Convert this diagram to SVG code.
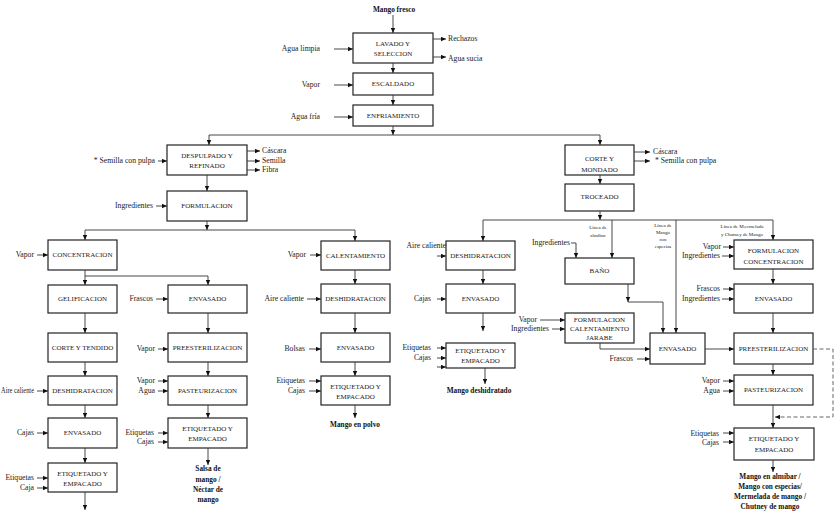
<svg xmlns="http://www.w3.org/2000/svg" width="839" height="511" viewBox="0 0 839 511">
<style>
.b rect{fill:#fff;stroke:#222;stroke-width:1.2}
.b text{font-family:"Liberation Serif",serif;font-size:7px;fill:#222;text-anchor:middle}
.c{fill:none;stroke:#333;stroke-width:0.9}
.a{marker-end:url(#ah)}
.d{fill:none;stroke:#666;stroke-width:1;stroke-dasharray:4,2.5}
.l{font-family:"Liberation Serif",serif;font-size:7.7px;fill:#222}
.r{text-anchor:end}
.s{font-family:"Liberation Serif",serif;font-size:5px;fill:#222;text-anchor:middle}
.p{font-family:"Liberation Serif",serif;font-size:7.3px;font-weight:bold;fill:#111;text-anchor:middle}
</style>
<defs>
<marker id="ah" markerUnits="userSpaceOnUse" markerWidth="5" markerHeight="5" refX="5" refY="2.5" orient="auto"><path d="M0,0.3 L5,2.5 L0,4.7 z" fill="#111"/></marker>
</defs>

<g id="nodes">
<g id="lavado" class="b"><rect x="353" y="33" width="80" height="30"/><text x="393" y="46">LAVADO Y</text><text x="393" y="56">SELECCION</text></g>
<g id="escaldado" class="b"><rect x="353" y="73" width="80" height="22"/><text x="393" y="86">ESCALDADO</text></g>
<g id="enfriamiento" class="b"><rect x="353" y="105" width="80" height="21"/><text x="393" y="118">ENFRIAMIENTO</text></g>
<g id="despulpado" class="b"><rect x="167" y="145" width="80" height="30"/><text x="207" y="158">DESPULPADO Y</text><text x="207" y="168">REFINADO</text></g>
<g id="formulacion" class="b"><rect x="167" y="191" width="80" height="30"/><text x="207" y="208">FORMULACION</text></g>
<g id="concentracion" class="b"><rect x="48" y="240" width="69" height="30"/><text x="82.5" y="257">CONCENTRACION</text></g>
<g id="gelificacion" class="b"><rect x="48" y="285" width="69" height="28"/><text x="82.5" y="301">GELIFICACION</text></g>
<g id="envasado1" class="b"><rect x="168" y="285" width="79" height="28"/><text x="207.5" y="301">ENVASADO</text></g>
<g id="corte-tendido" class="b"><rect x="48" y="333" width="69" height="29"/><text x="82.5" y="350">CORTE Y TENDIDO</text></g>
<g id="preesterilizacion1" class="b"><rect x="168" y="333" width="79" height="29"/><text x="207.5" y="350">PREESTERILIZACION</text></g>
<g id="deshidratacion1" class="b"><rect x="48" y="376" width="69" height="29"/><text x="82.5" y="393">DESHIDRATACION</text></g>
<g id="pasteurizacion1" class="b"><rect x="168" y="376" width="79" height="29"/><text x="207.5" y="393">PASTEURIZACION</text></g>
<g id="envasado2" class="b"><rect x="48" y="418" width="69" height="30"/><text x="82.5" y="435">ENVASADO</text></g>
<g id="etiquetado2" class="b"><rect x="168" y="418" width="79" height="30"/><text x="207.5" y="431">ETIQUETADO Y</text><text x="207.5" y="441">EMPACADO</text></g>
<g id="etiquetado1" class="b"><rect x="48" y="463" width="69" height="29"/><text x="82.5" y="476">ETIQUETADO Y</text><text x="82.5" y="486">EMPACADO</text></g>
<g id="calentamiento" class="b"><rect x="321" y="241" width="69" height="29"/><text x="355.5" y="258">CALENTAMIENTO</text></g>
<g id="deshidratacion2" class="b"><rect x="321" y="284" width="69" height="29"/><text x="355.5" y="301">DESHIDRATACION</text></g>
<g id="envasado3" class="b"><rect x="321" y="333" width="69" height="29"/><text x="355.5" y="350">ENVASADO</text></g>
<g id="etiquetado3" class="b"><rect x="321" y="376" width="69" height="29"/><text x="355.5" y="389">ETIQUETADO Y</text><text x="355.5" y="399">EMPACADO</text></g>
<g id="corte-mondado" class="b"><rect x="565" y="145" width="69" height="30"/><text x="599.5" y="161">CORTE Y</text><text x="599.5" y="172">MONDADO</text></g>
<g id="troceado" class="b"><rect x="565" y="184" width="69" height="27"/><text x="599.5" y="199">TROCEADO</text></g>
<g id="deshidratacion3" class="b"><rect x="446" y="241" width="69" height="29"/><text x="480.5" y="258">DESHIDRATACION</text></g>
<g id="envasado4" class="b"><rect x="446" y="284" width="69" height="29"/><text x="480.5" y="301">ENVASADO</text></g>
<g id="etiquetado4" class="b"><rect x="446" y="343" width="69" height="25"/><text x="480.5" y="353">ETIQUETADO Y</text><text x="480.5" y="363">EMPACADO</text></g>
<g id="bano" class="b"><rect x="565" y="258" width="69" height="26"/><text x="599.5" y="273">BAÑO</text></g>
<g id="formulacion-jarabe" class="b"><rect x="565" y="313" width="69" height="30"/><text x="599.5" y="322">FORMULACION</text><text x="599.5" y="331">CALENTAMIENTO</text><text x="599.5" y="340">JARABE</text></g>
<g id="envasado5" class="b"><rect x="650" y="333" width="55" height="31"/><text x="677.5" y="351">ENVASADO</text></g>
<g id="formulacion-concentracion" class="b"><rect x="734" y="240" width="79" height="29"/><text x="773.5" y="253">FORMULACION</text><text x="773.5" y="264">CONCENTRACION</text></g>
<g id="envasado6" class="b"><rect x="734" y="284" width="79" height="29"/><text x="773.5" y="301">ENVASADO</text></g>
<g id="preesterilizacion2" class="b"><rect x="734" y="333" width="79" height="31"/><text x="773.5" y="351">PREESTERILIZACION</text></g>
<g id="pasteurizacion2" class="b"><rect x="734" y="375" width="79" height="30"/><text x="773.5" y="392">PASTEURIZACION</text></g>
<g id="etiquetado5" class="b"><rect x="734" y="428" width="80" height="32"/><text x="774" y="441">ETIQUETADO Y</text><text x="774" y="452">EMPACADO</text></g>
</g>

<g id="connectors">
<path class="c a" d="M393,15 V33"/>
<path class="c a" d="M393,63 V73"/>
<path class="c a" d="M393,95 V105"/>
<path class="c a" d="M393,126 V135"/>
<path class="c" d="M209,135 H600"/>
<path class="c a" d="M209,135 V145"/>
<path class="c a" d="M600,135 V145"/>
<path class="c a" d="M207,175 V191"/>
<path class="c a" d="M207,221 V230"/>
<path class="c" d="M85,230 H355"/>
<path class="c a" d="M85,230 V240"/>
<path class="c a" d="M355,230 V241"/>
<path class="c" d="M85,270 V276 H208"/>
<path class="c a" d="M85,276 V285"/>
<path class="c a" d="M208,276 V285"/>
<path class="c a" d="M85,313 V333"/>
<path class="c a" d="M85,362 V376"/>
<path class="c a" d="M85,405 V418"/>
<path class="c a" d="M85,448 V463"/>
<path class="c a" d="M85,492 V510"/>
<path class="c a" d="M208,313 V333"/>
<path class="c a" d="M208,362 V376"/>
<path class="c a" d="M208,405 V418"/>
<path class="c a" d="M208,448 V465"/>
<path class="c a" d="M355,270 V284"/>
<path class="c a" d="M355,313 V333"/>
<path class="c a" d="M355,362 V376"/>
<path class="c a" d="M355,405 V418"/>
<path class="c a" d="M600,175 V184"/>
<path class="c a" d="M600,211 V220"/>
<path class="c" d="M483,220 H773"/>
<path class="c a" d="M483,220 V241"/>
<path class="c a" d="M612,220 V258"/>
<path class="c a" d="M676,220 V333"/>
<path class="c a" d="M773,220 V240"/>
<path class="c a" d="M571,243 H576 V258"/>
<path class="c a" d="M483,270 V284"/>
<path class="c a" d="M483,313 V331"/>
<path class="c a" d="M485,368 V384"/>
<path class="c a" d="M628,284 V302"/>
<path class="c a" d="M628,302 H663 V333"/>
<path class="c a" d="M600,343 V349 H650"/>
<path class="c a" d="M705,349 H734"/>
<path class="c a" d="M773,269 V284"/>
<path class="c a" d="M773,313 V333"/>
<path class="c a" d="M773,364 V375"/>
<path class="c a" d="M773,405 V428"/>
<path class="c a" d="M773,460 V472"/>
<path class="d a" d="M813,349 H833 V417 H775"/>

<path class="c a" d="M433,39 H446"/>
<path class="c a" d="M433,57 H446"/>
<path class="c a" d="M334,49 H353"/>
<path class="c a" d="M334,85 H353"/>
<path class="c a" d="M334,117 H353"/>
<path class="c a" d="M247,151 H260"/>
<path class="c a" d="M247,161 H260"/>
<path class="c a" d="M247,170 H260"/>
<path class="c a" d="M158,161 H167"/>
<path class="c a" d="M156,206 H167"/>
<path class="c a" d="M37,255 H48"/>
<path class="c a" d="M156,299 H168"/>
<path class="c a" d="M158,349 H168"/>
<path class="c a" d="M37,391 H48"/>
<path class="c a" d="M158,381 H168"/>
<path class="c a" d="M158,391 H168"/>
<path class="c a" d="M37,433 H48"/>
<path class="c a" d="M158,433 H168"/>
<path class="c a" d="M158,442 H168"/>
<path class="c a" d="M37,478 H48"/>
<path class="c a" d="M37,488 H48"/>
<path class="c a" d="M310,255 H321"/>
<path class="c a" d="M307,299 H321"/>
<path class="c a" d="M309,349 H321"/>
<path class="c a" d="M309,381 H321"/>
<path class="c a" d="M309,391 H321"/>
<path class="c a" d="M437,256 H446"/>
<path class="c a" d="M437,299 H446"/>
<path class="c a" d="M437,348 H446"/>
<path class="c a" d="M437,358 H446"/>
<path class="c a" d="M437,367 H446"/>
<path class="c a" d="M540,320 H565"/>
<path class="c a" d="M552,329 H565"/>
<path class="c a" d="M637,359 H650"/>
<path class="c a" d="M634,152 H650"/>
<path class="c a" d="M634,161 H650"/>
<path class="c a" d="M723,247 H734"/>
<path class="c a" d="M722,256 H734"/>
<path class="c a" d="M723,289 H734"/>
<path class="c a" d="M722,299 H734"/>
<path class="c a" d="M723,381 H734"/>
<path class="c a" d="M723,391 H734"/>
<path class="c a" d="M723,433 H734"/>
<path class="c a" d="M723,442 H734"/>
</g>

<g id="labels">
<text class="l r" x="320" y="51">Agua limpia</text>
<text class="l r" x="320" y="87">Vapor</text>
<text class="l r" x="320" y="119">Agua fría</text>
<text class="l" x="448" y="41">Rechazos</text>
<text class="l" x="448" y="61">Agua sucia</text>
<text class="l" x="262" y="153">Cáscara</text>
<text class="l" x="262" y="163">Semilla</text>
<text class="l" x="262" y="172">Fibra</text>
<text class="l r" x="155" y="163">* Semilla con pulpa</text>
<text class="l r" x="153" y="208">Ingredientes</text>
<text class="l r" x="34" y="257">Vapor</text>
<text class="l r" x="153" y="301">Frascos</text>
<text class="l r" x="155" y="351">Vapor</text>
<text class="l" x="1" y="393" textLength="33" lengthAdjust="spacingAndGlyphs">Aire caliente</text>
<text class="l r" x="155" y="383">Vapor</text>
<text class="l r" x="155" y="393">Agua</text>
<text class="l r" x="34" y="435">Cajas</text>
<text class="l r" x="154" y="435">Etiquetas</text>
<text class="l r" x="154" y="444">Cajas</text>
<text class="l r" x="34" y="480">Etiquetas</text>
<text class="l r" x="34" y="490">Caja</text>
<text class="l r" x="306" y="257">Vapor</text>
<text class="l r" x="304" y="301">Aire caliente</text>
<text class="l r" x="305" y="351">Bolsas</text>
<text class="l r" x="305" y="383">Etiquetas</text>
<text class="l r" x="305" y="393">Cajas</text>
<text class="l r" x="446" y="248">Aire caliente</text>
<text class="l r" x="431" y="301">Cajas</text>
<text class="l r" x="431" y="350">Etiquetas</text>
<text class="l r" x="431" y="360">Cajas</text>
<text class="l r" x="570" y="245">Ingredientes</text>
<text class="l r" x="537" y="322">Vapor</text>
<text class="l r" x="549" y="331">Ingredientes</text>
<text class="l r" x="633" y="361">Frascos</text>
<text class="l" x="653" y="154">Cáscara</text>
<text class="l" x="655" y="163">* Semilla con pulpa</text>
<text class="l r" x="721" y="249">Vapor</text>
<text class="l r" x="720" y="258">Ingredientes</text>
<text class="l r" x="720" y="291">Frascos</text>
<text class="l r" x="720" y="301">Ingredientes</text>
<text class="l r" x="720" y="383">Vapor</text>
<text class="l r" x="720" y="393">Agua</text>
<text class="l r" x="719" y="436">Etiquetas</text>
<text class="l r" x="719" y="445">Cajas</text>
<text class="s" x="598" y="229">Línea de</text>
<text class="s" x="598" y="237">almíbar</text>
<text class="s" x="663" y="227">Línea de</text>
<text class="s" x="663" y="234">Mango</text>
<text class="s" x="663" y="241">con</text>
<text class="s" x="663" y="248">especias</text>
<text class="s" x="742" y="228">Línea de M;ermelada</text>
<text class="s" x="742" y="236">y Chutney de Mango</text>
<text class="p" x="394" y="12">Mango fresco</text>
<text class="p" x="208" y="471">Salsa de</text>
<text class="p" x="208" y="482">mango /</text>
<text class="p" x="208" y="492">Néctar de</text>
<text class="p" x="208" y="502">mango</text>
<text class="p" x="355" y="427">Mango en polvo</text>
<text class="p" x="479" y="393">Mango deshidratado</text>
<text class="p" x="770" y="479">Mango en almíbar /</text>
<text class="p" x="770" y="489">Mango con especias/</text>
<text class="p" x="770" y="499">Mermelada de mango /</text>
<text class="p" x="770" y="509">Chutney de mango</text>
</g>
</svg>
